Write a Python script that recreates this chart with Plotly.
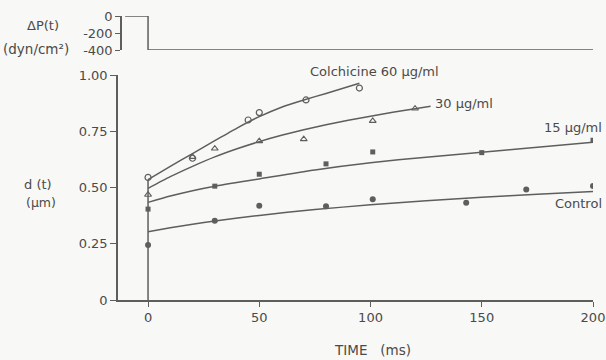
import plotly.graph_objects as go

# ---- data ----
# measured points
t60 = [0, 20, 45, 50, 71, 95]
d60 = [0.545, 0.630, 0.800, 0.833, 0.889, 0.942]
t30 = [0, 20, 30, 50, 70, 101, 120]
d30 = [0.468, 0.636, 0.673, 0.706, 0.715, 0.796, 0.851]
t15 = [0, 30, 50, 80, 101, 150, 200]
d15 = [0.404, 0.506, 0.559, 0.605, 0.658, 0.655, 0.710]
tc = [0, 30, 50, 80, 101, 143, 170, 200]
dc = [0.244, 0.352, 0.419, 0.417, 0.448, 0.432, 0.491, 0.507]

# fitted curves
fit60_t = [0, 10, 20, 30, 40, 50, 60, 70, 80, 95]
fit60_d = [0.535, 0.594, 0.651, 0.708, 0.764, 0.815, 0.857, 0.889, 0.918, 0.963]
fit30_t = [0, 10, 20, 30, 40, 50, 60, 70, 80, 90, 100, 110, 120, 127]
fit30_d = [0.496, 0.548, 0.594, 0.636, 0.672, 0.704, 0.732, 0.757, 0.779, 0.799, 0.817, 0.834, 0.850, 0.861]
fit15_t = [0, 10, 20, 30, 50, 75, 100, 125, 150, 175, 200]
fit15_d = [0.434, 0.462, 0.486, 0.506, 0.538, 0.578, 0.610, 0.635, 0.657, 0.679, 0.701]
fitc_t = [0, 10, 20, 30, 50, 75, 100, 125, 150, 175, 200]
fitc_d = [0.303, 0.321, 0.337, 0.351, 0.376, 0.402, 0.423, 0.441, 0.457, 0.470, 0.482]

# pressure step
tp = [-10.3, 0, 0, 200]
pp = [0, 0, -400, -400]

# vertical jump at t=0
tj = [0, 0]
dj = [0, 0.535]

x_ticks = [0, 50, 100, 150, 200]
y_ticks = [0, 0.25, 0.5, 0.75, 1.0]
y_tick_text = ["0", "0.25", "0.50", "0.75", "1.00"]
p_ticks = [0, -200, -400]
p_tick_text = ["0", "-200", "-400"]

W, H = 606, 360
L, R, T, B = 118, 13, 16, 60
PW, PH = W - L - R, H - T - B

def px(x):
    return (x - L) / PW

def py(y):
    return (H - B - y) / PH

LINE = "#5e5e5e"
TXT = "#4a4a4a"
FONT = "DejaVu Sans"
FS = 13

fig = go.Figure()

lw = 1.5
for ft, fd in [(fit60_t, fit60_d), (fit30_t, fit30_d), (fit15_t, fit15_d), (fitc_t, fitc_d), (tj, dj)]:
    fig.add_trace(go.Scatter(x=ft, y=fd, mode="lines", line=dict(color=LINE, width=lw, shape="spline", smoothing=0.6),
                             showlegend=False, hoverinfo="skip"))

fig.add_trace(go.Scatter(x=t60, y=d60, mode="markers",
                         marker=dict(symbol="circle-open", size=6, color=LINE, line=dict(width=1.2, color=LINE)),
                         showlegend=False))
fig.add_trace(go.Scatter(x=t30, y=d30, mode="markers",
                         marker=dict(symbol="triangle-up-open", size=6, color=LINE, line=dict(width=1.1, color=LINE)),
                         showlegend=False))
fig.add_trace(go.Scatter(x=t15, y=d15, mode="markers",
                         marker=dict(symbol="square", size=5, color=LINE),
                         showlegend=False))
fig.add_trace(go.Scatter(x=tc, y=dc, mode="markers",
                         marker=dict(symbol="circle", size=6, color=LINE),
                         showlegend=False))

fig.add_trace(go.Scatter(x=tp, y=pp, mode="lines", xaxis="x2", yaxis="y2",
                         line=dict(color=LINE, width=1.5), showlegend=False, hoverinfo="skip"))

main_h = (H - B - 75) / PH
top_lo = py(50)
top_hi = py(16)

fig.update_layout(
    width=W, height=H,
    margin=dict(l=L, r=R, t=T, b=B, autoexpand=False),
    paper_bgcolor="#f8f8f6", plot_bgcolor="#f8f8f6",
    font=dict(family=FONT, size=FS, color=TXT),
    xaxis=dict(domain=[0, 1], range=[-13.5, 200], tickvals=x_ticks, ticks="outside", ticklen=5,
               tickcolor=LINE, tickwidth=1.3, showline=True, linecolor=LINE, linewidth=1.5,
               showgrid=False, zeroline=False, anchor="y", tickfont=dict(size=FS, color=TXT)),
    yaxis=dict(domain=[0, main_h], range=[0, 1.0], tickvals=y_ticks, ticktext=y_tick_text,
               ticks="outside", ticklen=6, tickcolor=LINE, tickwidth=1.3, showline=True,
               linecolor=LINE, linewidth=1.5, showgrid=False, zeroline=False, anchor="x",
               tickfont=dict(size=FS, color=TXT)),
    xaxis2=dict(domain=[0, 1], range=[-13.5, 200], visible=False, anchor="y2"),
    yaxis2=dict(domain=[top_lo, top_hi], range=[-400, 0], tickvals=p_ticks, ticktext=p_tick_text,
                ticks="outside", ticklen=5, tickcolor=LINE, tickwidth=1.3, showline=True,
                linecolor=LINE, linewidth=1.5, showgrid=False, zeroline=False,
                anchor="free", position=px(121), tickfont=dict(size=FS, color=TXT)),
)

ann = [
    dict(text="Colchicine 60 µg/ml", x=px(374), y=py(72), xanchor="center"),
    dict(text="30 µg/ml", x=px(433), y=py(103), xanchor="left"),
    dict(text="15 µg/ml", x=px(542), y=py(127), xanchor="left"),
    dict(text="Control", x=px(604), y=py(203), xanchor="right"),
    dict(text="TIME   (ms)", x=px(372), y=py(350), xanchor="center", font=dict(size=13.5, color=TXT)),
    dict(text="d (t)", x=px(38), y=py(184), xanchor="center"),
    dict(text="(µm)", x=px(41), y=py(202), xanchor="center", font=dict(size=12.5, color=TXT)),
    dict(text="ΔP(t)", x=px(43), y=py(26), xanchor="center"),
    dict(text="(dyn/cm²)", x=px(36), y=py(49), xanchor="center", font=dict(size=13.5, color=TXT)),
]
for a in ann:
    a.setdefault("font", dict(size=FS, color=TXT))
    a["showarrow"] = False
    a["yanchor"] = "middle"
    a["xref"] = "paper"
    a["yref"] = "paper"
    fig.add_annotation(**a)

fig.write_html("out.html", config={"displayModeBar": False},
               post_script="document.body.style.margin='0';document.body.style.overflow='hidden';")
